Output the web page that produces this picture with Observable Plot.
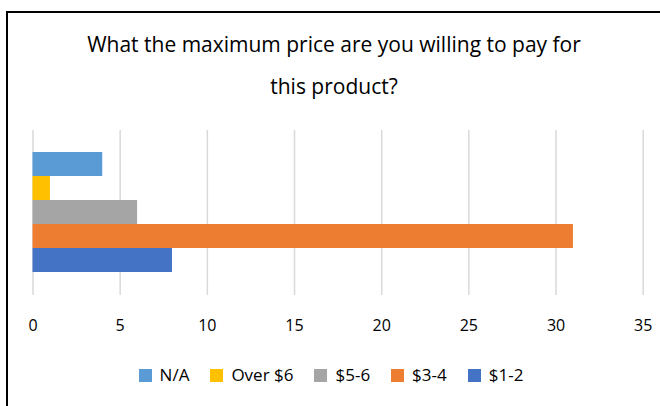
<!DOCTYPE html>
<html>
<head>
<meta charset="utf-8">
<script src="https://cdn.jsdelivr.net/npm/d3@7"></script>
<script src="https://cdn.jsdelivr.net/npm/@observablehq/plot@0.6"></script>
<style>
  html, body { margin: 0; padding: 0; background: #fff; }
  #wrap { position: relative; width: 660px; height: 406px; overflow: hidden; font-family: "Open Sans", Lato, sans-serif; color: #000; }
  #bl { position: absolute; left: 6px; top: 11px; width: 2px; height: 395px; background: #000; }
  #bt { position: absolute; left: 6px; top: 11px; width: 654px; height: 2px; background: #000; }
  #title { position: absolute; left: 0; top: 23px; width: 668px; text-align: center; font-size: 21px; line-height: 42px; }
  #plot { position: absolute; left: 0; top: 120px; }
  #legend { position: absolute; left: 0; top: 363px; width: 662px; display: flex; justify-content: center; gap: 21px; font-size: 17px; line-height: 24px; }
  .item { display: flex; align-items: center; }
  .sw { width: 13px; height: 13px; margin-right: 8px; }
</style>
</head>
<body>
<div id="wrap">
  <div id="bl"></div><div id="bt"></div>
  <div id="title">What the maximum price are you willing to pay for<br>this product?</div>
  <div id="plot"></div>
  <div id="legend"></div>
</div>
<script>
const categories = ["N/A", "Over $6", "$5-6", "$3-4", "$1-2"];
const values = [4, 1, 6, 31, 8];
const colors = ["#5B9BD5", "#FFC000", "#A5A5A5", "#ED7D31", "#4472C4"];
const xTicks = [0, 5, 10, 15, 20, 25, 30, 35];

const data = categories.map((c, i) => ({category: c, value: values[i]}));

const chart = Plot.plot({
  width: 660,
  height: 220,
  marginLeft: 32.5,
  marginRight: 17.3,
  marginTop: 10,
  marginBottom: 45,
  style: {fontFamily: "'Open Sans', Lato, sans-serif", fontSize: "16px", color: "#000", background: "transparent"},
  x: {domain: [0, 35], ticks: xTicks, label: null},
  y: {domain: categories, range: [32, 152], padding: 0, axis: null},
  color: {domain: categories, range: colors},
  marks: [
    Plot.ruleX(xTicks, {stroke: "#d9d9d9", strokeWidth: 1.5}),
    Plot.barX(data, {x: "value", y: "category", fill: "category"}),
    Plot.axisX({ticks: xTicks, tickSize: 0, tickPadding: 24, label: null, fontSize: 16})
  ]
});
document.getElementById("plot").appendChild(chart);

const legend = document.getElementById("legend");
categories.forEach((c, i) => {
  const it = document.createElement("div");
  it.className = "item";
  const sw = document.createElement("span");
  sw.className = "sw";
  sw.style.background = colors[i];
  const t = document.createElement("span");
  t.textContent = c;
  it.appendChild(sw); it.appendChild(t);
  legend.appendChild(it);
});
</script>
</body>
</html>
